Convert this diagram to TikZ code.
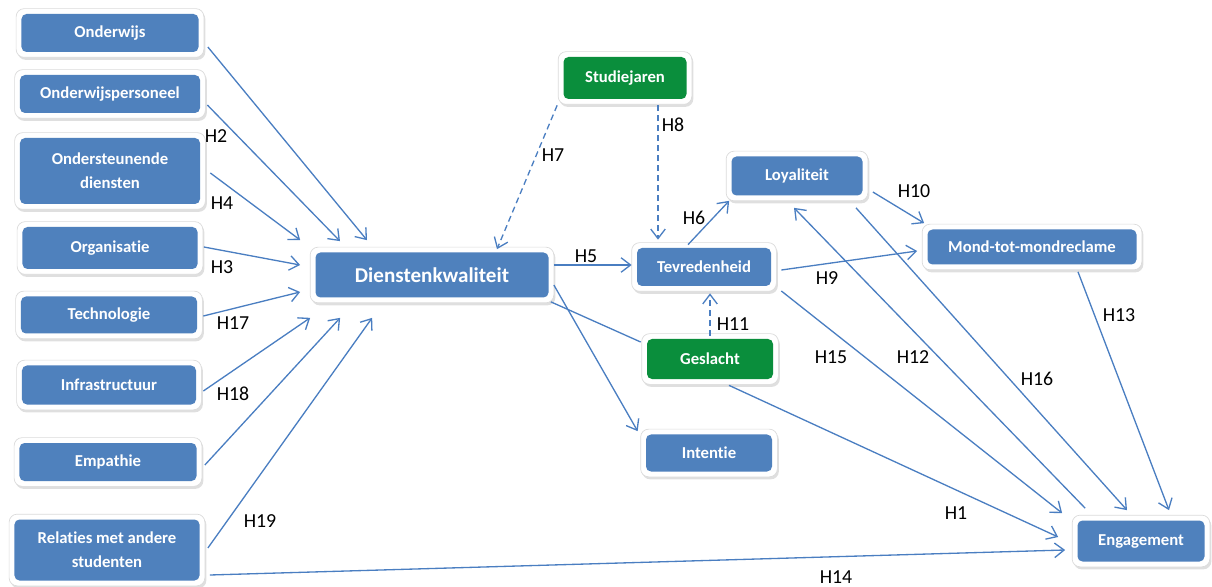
\documentclass[tikz,border=0pt]{standalone}
\usepackage{fontspec}
\setmainfont{Carlito}[Ligatures=NoCommon]
\usetikzlibrary{arrows.meta,positioning,fit,backgrounds,calc,shadows}
\definecolor{qblue}{RGB}{79,129,189}
\definecolor{qgreen}{RGB}{10,142,60}
\definecolor{qline}{RGB}{74,126,193}

\begin{document}
\begin{tikzpicture}[
  x=0.2mm, y=-0.2mm,
  factor/.style={fill=qblue, text=white, rounded corners=1mm, align=center, inner sep=1pt,
                 font=\fontsize{9.5}{13.5}\selectfont\bfseries},
  control/.style={factor, fill=qgreen},
  frame/.style={fill=white, draw=black!14, rounded corners=1.6mm, inner sep=1mm,
                drop shadow={shadow xshift=0.3mm, shadow yshift=-0.5mm, opacity=0.25}},
  arr/.style={-{Straight Barb[length=1.9mm,width=2.9mm]}, qline, line width=0.75pt},
  mod/.style={arr, dash pattern=on 1.2mm off 0.8mm},
  hyp/.style={font=\fontsize{11.3}{13}\selectfont, inner sep=0pt}
]
\useasboundingbox (0,0) rectangle (1212,587);

% --- service quality dimensions ---
\node[factor, minimum width=35.4mm, minimum height=7.6mm] (ow) at (110,33) {Onderwijs};
\node[factor, minimum width=36mm, minimum height=7.6mm] (op) at (110,94) {Onderwijspersoneel};
\node[factor, minimum width=36mm, minimum height=13.2mm] (od) at (110,171) {Ondersteunende\\diensten};
\node[factor, minimum width=35mm, minimum height=8.4mm] (org) at (110,248) {Organisatie};
\node[factor, minimum width=35.2mm, minimum height=7.4mm] (tech) at (109,315) {Technologie};
\node[factor, minimum width=34.8mm, minimum height=7.8mm] (infra) at (109,385) {Infrastructuur};
\node[factor, minimum width=35.4mm, minimum height=7.6mm] (emp) at (108,462) {Empathie};
\node[factor, minimum width=37mm, minimum height=12.2mm] (rel) at (107,550) {Relaties met andere\\studenten};

% --- central constructs ---
\node[factor, minimum width=46.6mm, minimum height=9mm, font=\fontsize{12}{14}\selectfont\bfseries]
  (dk) at (432,275) {Dienstenkwaliteit};
\node[control, minimum width=24.6mm, minimum height=8.4mm] (sj) at (625,78) {Studiejaren};
\node[factor, minimum width=26.8mm, minimum height=7.6mm] (tev) at (704,267) {Tevredenheid};
\node[factor, minimum width=26.2mm, minimum height=7.8mm] (loy) at (797,176) {Loyaliteit};
\node[factor, minimum width=41.8mm, minimum height=7mm] (mond) at (1032,247) {Mond-tot-mondreclame};
\node[control, minimum width=25.2mm, minimum height=8mm] (ges) at (710,359) {Geslacht};
\node[factor, minimum width=25.2mm, minimum height=7.4mm] (int) at (709,453) {Intentie};
\node[factor, minimum width=25.4mm, minimum height=8.2mm] (eng) at (1141,541) {Engagement};

\begin{scope}[on background layer]
  \foreach \n in {ow,op,od,org,tech,infra,emp,rel,dk,sj,tev,loy,mond,ges,int,eng}
    \node[frame, fit=(\n)] (\n-frame) {};
\end{scope}

% dimensions -> Dienstenkwaliteit
\draw[arr] ([shift={(9,14)}]ow.east) -- ([shift={(-65,-12)}]dk.north);
\draw[arr] ([shift={(7,11)}]op.east) -- ([shift={(-92,-11)}]dk.north);
\draw[arr] ([shift={(10,2)}]od.east) -- ([shift={(-15,-35)}]dk.west);
\draw[arr] ([shift={(6,-1)}]org.east) -- ([shift={(-15,-10)}]dk.west);
\draw[arr] ([shift={(6,1)}]tech.east) -- ([shift={(-15,17)}]dk.west);
\draw[arr] ([shift={(7,6)}]infra.east) -- ([shift={(-5,20)}]dk.south west);
\draw[arr] ([shift={(8,3)}]emp.east) -- ([shift={(25,20)}]dk.south west);
\draw[arr] ([shift={(8,-2)}]rel.east) -- ([shift={(57,20)}]dk.south west);
\draw[arr] ([shift={(10,25)}]rel.east) -- ([shift={(-12,9)}]eng.west);

% moderators (dashed)
\draw[mod] ([shift={(-6,6)}]sj.south west) -- ([shift={(65,-3)}]dk.north);
\draw[mod] ([shift={(33,6)}]sj.south) -- ([shift={(-46,-8)}]tev.north);
\draw[mod] ([shift={(0,-3)}]ges.north) -- ([shift={(6,7)}]tev.south);

% outcome paths
\draw[arr] ([shift={(5,-10)}]dk.east) -- ([shift={(-5,-2)}]tev.west);
\draw[arr] ([shift={(5,10)}]dk.east) -- ([shift={(-8,-3)}]int.north west);
\draw[qline, line width=0.75pt] ([shift={(2,4)}]dk.south east) -- ([shift={(-6,-17)}]ges.west);
\draw[arr] ([shift={(-16,-3)}]tev.north) -- ([shift={(-2,5)}]loy.south west);
\draw[arr] ([shift={(10,3)}]tev.east) -- ([shift={(-10,4)}]mond.west);
\draw[arr] ([shift={(10,16)}]loy.east) -- ([shift={(-3,-6)}]mond.north west);
\draw[arr] ([shift={(8,-12)}]eng.north west) -- ([shift={(-3,12)}]loy.south);
\draw[arr] ([shift={(59,12)}]loy.south) -- ([shift={(-14,-10)}]eng.north);
\draw[arr] ([shift={(10,24)}]tev.east) -- ([shift={(-15,-7)}]eng.north west);
\draw[arr] ([shift={(19,6)}]ges.south) -- ([shift={(-19,-4)}]eng.west);
\draw[arr] ([shift={(46,7)}]mond.south) -- ([shift={(28,-10)}]eng.north);

% hypothesis labels
\foreach \h/\p in {H1/{(956,513)}, H2/{(216,136)}, H3/{(222,267)}, H4/{(222,203)},
                   H5/{(586,256)}, H6/{(694,218)}, H7/{(553,155)}, H8/{(673,125)},
                   H9/{(827,278)}, H10/{(914,191)}, H11/{(733,324)}, H12/{(913,357)},
                   H13/{(1119,315)}, H14/{(836,577)}, H15/{(831,357)}, H16/{(1037,379)},
                   H17/{(233,323)}, H18/{(233,394)}, H19/{(260,521)}}
  \node[hyp] (\h) at \p {\h};

\end{tikzpicture}
\end{document}
